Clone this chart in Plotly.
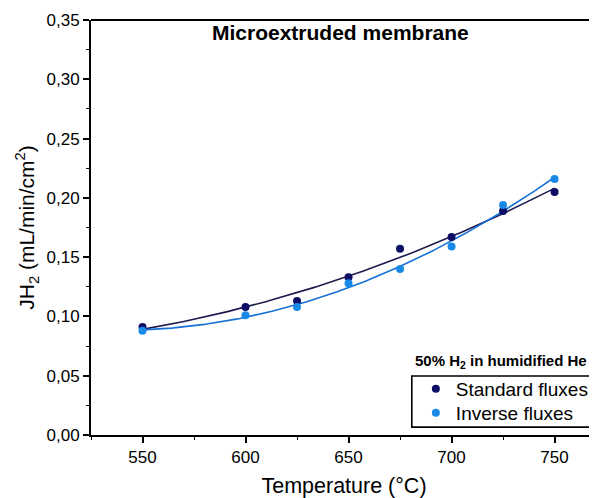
import numpy as np
import plotly.graph_objects as go

temperature = [550, 600, 625, 650, 675, 700, 725, 750]
standard_flux = [0.091, 0.108, 0.113, 0.133, 0.157, 0.167, 0.189, 0.205]
inverse_flux = [0.088, 0.101, 0.108, 0.128, 0.140, 0.159, 0.194, 0.216]

x_ticks = [550, 600, 650, 700, 750]
y_ticks = [0.00, 0.05, 0.10, 0.15, 0.20, 0.25, 0.30, 0.35]

FONT = "Liberation Sans, Arial, sans-serif"
C_STD_M = "#0d0d66"
C_STD_L = "#1c1c4e"
C_INV_M = "#1a8ae8"
C_INV_L = "#1670d6"

xfit = np.linspace(min(temperature), max(temperature), 200)
std_fit = np.polyval(np.polyfit(temperature, standard_flux, 2), xfit)
inv_fit = np.polyval(np.polyfit(temperature, inverse_flux, 2), xfit)

fig = go.Figure()
fig.add_trace(go.Scatter(x=xfit, y=std_fit, mode="lines", line=dict(color=C_STD_L, width=1.6),
                         showlegend=False, hoverinfo="skip"))
fig.add_trace(go.Scatter(x=xfit, y=inv_fit, mode="lines", line=dict(color=C_INV_L, width=1.6),
                         showlegend=False, hoverinfo="skip"))
fig.add_trace(go.Scatter(x=temperature, y=standard_flux, mode="markers", name="Standard fluxes",
                         marker=dict(color=C_STD_M, size=8), legend="legend"))
fig.add_trace(go.Scatter(x=temperature, y=inverse_flux, mode="markers", name="Inverse fluxes",
                         marker=dict(color=C_INV_M, size=8), legend="legend2"))

axis_common = dict(showline=True, linecolor="black", linewidth=2, ticks="outside", ticklen=6,
                   tickwidth=1.5, tickcolor="black", showgrid=False, zeroline=False,
                   automargin=False,
                   tickfont=dict(family=FONT, size=17, color="black"),
                   minor=dict(ticks="outside", ticklen=3, tickwidth=1.2, tickcolor="black"))

fig.update_xaxes(range=[525, 770.6], tickvals=x_ticks, ticktext=[str(v) for v in x_ticks],
                 title=dict(text="Temperature (°C)", font=dict(family=FONT, size=21.5, color="black"), standoff=13),
                 **axis_common)
fig.update_xaxes(minor=dict(dtick=25, tick0=525))
fig.update_yaxes(range=[0, 0.35], tickvals=y_ticks, tickformat=".2f",
                 title=dict(text="JH<sub>2</sub> (mL/min/cm<sup>2</sup>)",
                            font=dict(family=FONT, size=21, color="black"), standoff=6),
                 **axis_common)
fig.update_yaxes(minor=dict(dtick=0.025, tick0=0))

fig.add_shape(type="line", xref="paper", yref="paper", x0=0, x1=1, y0=1, y1=1,
              line=dict(color="black", width=2))
# legend frame (runs past the right edge, as in the reference)
fig.add_shape(type="rect", xref="paper", yref="paper", x0=0.634, x1=1.05, y0=0.019, y1=0.142,
              line=dict(color="black", width=1.6), fillcolor="white", layer="above")

fig.add_annotation(text="<b>Microextruded membrane</b>", xref="paper", yref="paper",
                   x=0.494, y=0.969, showarrow=False, xanchor="center", yanchor="middle",
                   font=dict(family=FONT, size=21, color="black"))
fig.add_annotation(text="<b>50% H<sub>2</sub> in humidified He</b>", xref="paper", yref="paper",
                   x=0.636, y=0.178, showarrow=False, xanchor="left", yanchor="middle",
                   font=dict(family=FONT, size=15, color="black"))

leg_common = dict(xanchor="left", yanchor="middle", borderwidth=0, bgcolor="rgba(0,0,0,0)",
                  font=dict(family=FONT, size=19, color="black"), itemwidth=30)

fig.update_layout(
    width=589, height=490,
    margin=dict(l=83, r=0, t=12, b=63),
    paper_bgcolor="white", plot_bgcolor="white",
    separators=", ",
    font=dict(family=FONT, color="black"),
    legend=dict(x=0.642, y=0.111, **leg_common),
    legend2=dict(x=0.642, y=0.053, **leg_common),
)

fig.write_html("out.html")
